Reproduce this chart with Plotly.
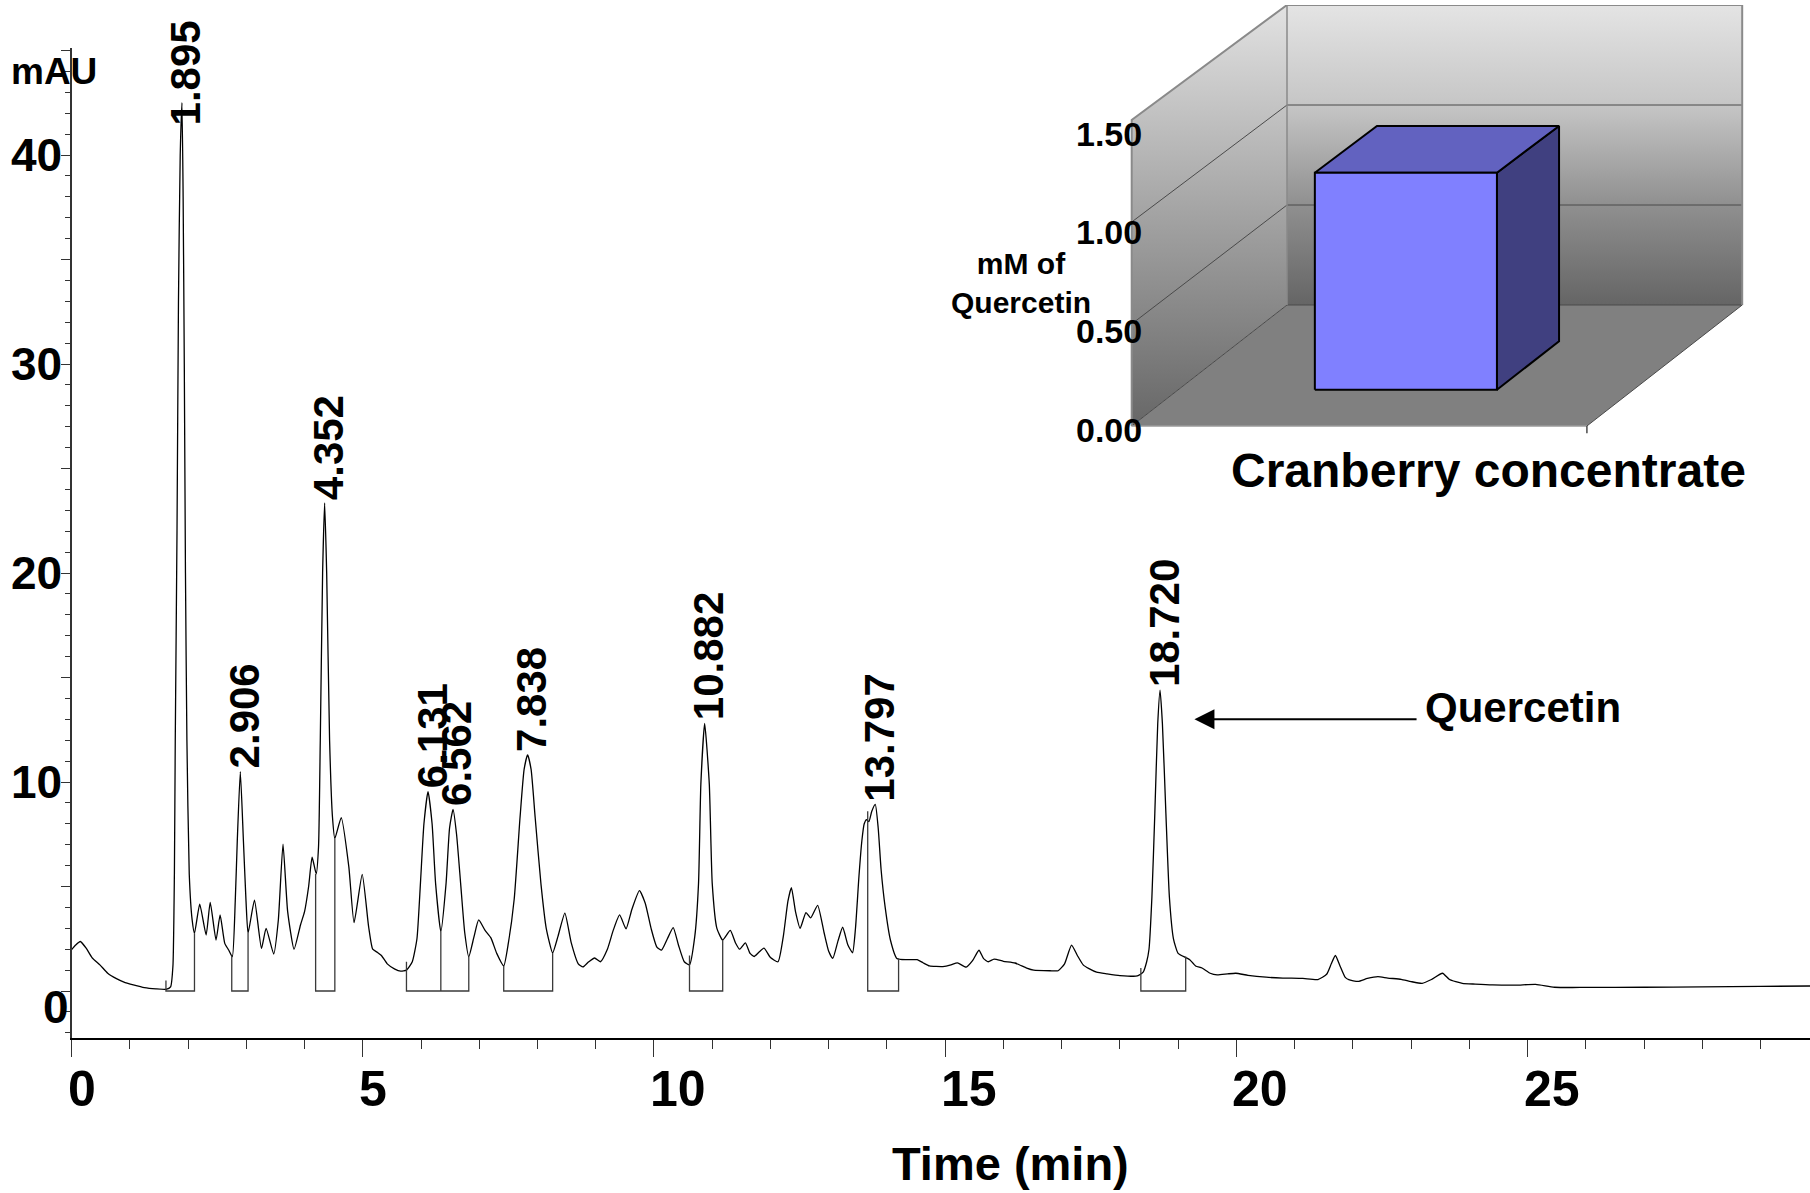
import plotly.graph_objects as go

# ---------------- data ----------------
time_min = [0.00, 0.07, 0.15, 0.25, 0.35, 0.49, 0.62, 0.77, 0.92, 1.06, 1.25, 1.45, 1.62, 1.70, 1.74,
            1.765, 1.78, 1.81, 1.835, 1.865, 1.895, 1.915, 1.935, 1.955, 1.98, 2.02, 2.07, 2.11, 2.20,
            2.31, 2.38, 2.48, 2.55, 2.63, 2.70, 2.76, 2.81, 2.845, 2.897, 2.95, 2.995, 3.03, 3.14, 3.26,
            3.34, 3.47, 3.55, 3.63, 3.71, 3.82, 3.93, 4.00, 4.07, 4.13, 4.20, 4.24, 4.27, 4.31, 4.345,
            4.38, 4.43, 4.48, 4.52, 4.63, 4.76, 4.85, 4.99, 5.10, 5.17, 5.25, 5.32, 5.42, 5.55, 5.65,
            5.75, 5.85, 5.93, 5.99, 6.05, 6.12, 6.19, 6.25, 6.34, 6.43, 6.49, 6.55, 6.61, 6.68, 6.75,
            6.82, 6.91, 6.99, 7.10, 7.20, 7.30, 7.42, 7.50, 7.60, 7.70, 7.77, 7.83, 7.89, 7.96, 8.06,
            8.15, 8.26, 8.35, 8.47, 8.58, 8.70, 8.78, 8.88, 8.98, 9.08, 9.20, 9.30, 9.41, 9.52, 9.62,
            9.75, 9.85, 9.95, 10.05, 10.13, 10.23, 10.33, 10.42, 10.52, 10.61, 10.70, 10.765, 10.805,
            10.87, 10.95, 11.00, 11.08, 11.18, 11.31, 11.40, 11.47, 11.57, 11.65, 11.72, 11.80, 11.89,
            12.00, 12.13, 12.22, 12.30, 12.36, 12.43, 12.51, 12.61, 12.69, 12.81, 12.92, 13.00, 13.07,
            13.16, 13.24, 13.33, 13.41, 13.46, 13.52, 13.57, 13.61, 13.65, 13.69, 13.74, 13.80, 13.85,
            13.90, 13.97, 14.06, 14.17, 14.34, 14.52, 14.62, 14.73, 14.96, 15.10, 15.21, 15.36, 15.47,
            15.58, 15.66, 15.74, 15.84, 16.00, 16.20, 16.40, 16.52, 16.80, 16.94, 17.05, 17.17, 17.27,
            17.37, 17.47, 17.60, 17.78, 18.00, 18.30, 18.40, 18.46, 18.50, 18.55, 18.60, 18.65, 18.69,
            18.73, 18.79, 18.85, 18.92, 19.00, 19.13, 19.20, 19.30, 19.41, 19.55, 19.67, 19.85, 19.99,
            20.20, 20.51, 20.80, 21.14, 21.40, 21.55, 21.63, 21.70, 21.78, 21.87, 21.93, 22.09, 22.25,
            22.43, 22.60, 22.83, 23.00, 23.19, 23.35, 23.54, 23.66, 23.88, 24.10, 24.40, 24.80, 25.14,
            25.46, 26.00, 27.00, 28.00, 29.00, 29.85]
signal_mau = [1.98, 2.2, 2.37, 2.05, 1.6, 1.24, 0.85, 0.59, 0.4, 0.29, 0.16, 0.1, 0.08, 0.2, 1.2,
              5.6, 12, 22, 33, 40, 42.5, 38, 30, 20, 12, 5.6, 3.4, 2.76, 4.16,
              2.68, 4.24, 2.44, 3.64, 2.28, 1.95, 1.64, 4.3, 7.2, 10.5, 7.2, 4.3, 2.76, 4.35, 2.04,
              3.0, 1.77, 3.4, 7.03, 3.8, 2.0, 3.16, 3.8, 5.0, 6.4, 5.6, 6.9, 12, 20, 23.35,
              20, 12, 8.3, 7.3, 8.3, 5.95, 3.27, 5.58, 3.08, 2.0, 1.85, 1.7, 1.3, 1.05, 0.95,
              1.0, 1.4, 2.5, 5.15, 8.0, 9.54, 8.0, 5.15, 2.84, 5.15, 7.8, 8.69, 7.5, 5.15, 2.8,
              1.64, 2.6, 3.4, 2.9, 2.54, 1.8, 1.2, 2.3, 4.4, 8.3, 10.6, 11.3, 10.6, 8.3, 5.1,
              3.0, 1.82, 2.6, 3.73, 2.3, 1.3, 1.15, 1.4, 1.58, 1.4, 2.0, 2.9, 3.64, 2.97, 3.9,
              4.8, 4.2, 3.0, 2.1, 1.96, 2.5, 3.03, 2.2, 1.4, 1.25, 2.6, 5.15, 9.9,
              12.8, 9.9, 5.15, 3.0, 2.44, 2.9, 2.3, 2.0, 2.3, 1.8, 1.65, 1.85, 2.05,
              1.6, 1.4, 2.6, 4.3, 4.95, 3.8, 3.0, 3.75, 3.5, 4.1, 2.8, 1.9, 1.56,
              2.4, 3.05, 2.2, 1.83, 3.0, 5.5, 7.2, 8.0, 8.2, 8.1, 8.6, 8.93, 7.8,
              5.8, 4.0, 2.44, 1.56, 1.5, 1.5, 1.35, 1.2, 1.17, 1.25, 1.35, 1.14, 1.45,
              1.95, 1.55, 1.4, 1.53, 1.42, 1.34, 1.1, 1.0, 0.97, 0.97, 1.3, 2.2, 1.7,
              1.25, 1.07, 0.9, 0.82, 0.74, 0.72, 0.9, 1.4, 2.0, 4.5, 8.5, 12.8, 14.4,
              12.8, 8.5, 4.5, 2.5, 1.8, 1.6, 1.5, 1.2, 1.1, 0.85, 0.77, 0.82, 0.85,
              0.75, 0.66, 0.62, 0.6, 0.55, 0.8, 1.3, 1.7, 1.2, 0.65, 0.54, 0.46, 0.6,
              0.69, 0.62, 0.56, 0.45, 0.37, 0.55, 0.85, 0.55, 0.37, 0.33, 0.29, 0.28, 0.32,
              0.18, 0.17, 0.18, 0.2, 0.22, 0.24]

peak_rt_labels = ["1.895", "2.906", "4.352", "6.131", "6.562", "7.838", "10.882", "13.797", "18.720"]
peak_apex_t = [1.895, 2.897, 4.345, 6.12, 6.55, 7.83, 10.87, 13.80, 18.69]
peak_apex_mau = [42.5, 10.5, 23.35, 9.54, 8.69, 11.3, 12.8, 8.93, 14.4]

# integration marks: start/end times and the heights where the drop lines meet the trace
int_start_t = [1.62, 2.75, 4.19, 5.75, 7.42, 10.61, 13.67, 18.36]
int_start_h = [0.5, 1.7, 5.6, 1.4, 1.2, 1.7, 8.6, 1.1]
int_end_t = [2.11, 3.03, 4.52, 6.82, 8.26, 11.18, 14.20, 19.13]
int_end_h = [2.76, 2.76, 7.3, 1.64, 1.82, 2.44, 1.56, 1.65]
int_split_t = [6.34]
int_split_h = [2.84]

x_tick_vals = [0, 5, 10, 15, 20, 25]
x_tick_text = ["0", "5", "10", "15", "20", "25"]
y_tick_vals = [0, 10, 20, 30, 40]
y_tick_text = ["0", "10", "20", "30", "40"]

inset_category = ["Cranberry concentrate"]
inset_quercetin_mM = [1.07]
inset_tick_vals = [0.0, 0.5, 1.0, 1.5]
inset_tick_text = ["0.00", "0.50", "1.00", "1.50"]

# ---------------- layout constants ----------------
W, H = 1810, 1193
FONT = "Liberation Sans, Arial, Helvetica, sans-serif"
X0_PX, YTOP_PX, YBOT_PX = 71.6, 48.0, 1037.7
X_RANGE = [0, 29.85]
Y_RANGE = [-2.234, 45.12]


def pxx(px):
    return px / W


def pxy(py):
    return 1 - py / H


fig = go.Figure()

# chromatogram
fig.add_trace(go.Scatter(x=time_min, y=signal_mau, mode="lines",
                         line=dict(color="black", width=1.3, shape="spline", smoothing=0.5),
                         hoverinfo="skip", showlegend=False))

# integration brackets
for s, hs, e, he in zip(int_start_t, int_start_h, int_end_t, int_end_h):
    fig.add_trace(go.Scatter(x=[s, s, e, e], y=[hs, 0, 0, he], mode="lines",
                             line=dict(color="#3a3a3a", width=1.3), hoverinfo="skip", showlegend=False))
for s, hs in zip(int_split_t, int_split_h):
    fig.add_trace(go.Scatter(x=[s, s], y=[0, hs], mode="lines",
                             line=dict(color="#3a3a3a", width=1.3), hoverinfo="skip", showlegend=False))

annotations = []

# peak retention-time labels
for lab, t, h in zip(peak_rt_labels, peak_apex_t, peak_apex_mau):
    if h > 40:  # tallest peak: label pinned near the top of the frame
        annotations.append(dict(x=t, y=pxy(18), xref="x", yref="paper", text=lab, showarrow=False,
                                textangle=-90, xanchor="center", yanchor="top", xshift=4,
                                font=dict(size=42, color="black", family=FONT, weight="bold")))
    else:
        annotations.append(dict(x=t, y=h, xref="x", yref="y", text=lab, showarrow=False,
                                textangle=-90, xanchor="center", yanchor="bottom", xshift=4, yshift=1,
                                font=dict(size=42, color="black", family=FONT, weight="bold")))

# axis tick labels
for v, txt in zip(x_tick_vals, x_tick_text):
    annotations.append(dict(x=v, y=pxy(1088.5), xref="x", yref="paper", text=txt, showarrow=False,
                            xanchor="left", yanchor="middle", xshift=-6,
                            font=dict(size=50, color="black", family=FONT, weight="bold")))
for v, txt in zip(y_tick_vals, y_tick_text):
    if v == 0:
        annotations.append(dict(x=pxx(X0_PX), y=v - 0.75, xref="paper", yref="y", text=txt,
                                showarrow=False, xanchor="right", yanchor="middle", xshift=-1,
                                font=dict(size=46, color="black", family=FONT, weight="bold")))
    else:
        annotations.append(dict(x=pxx(X0_PX), y=v, xref="paper", yref="y", text=txt,
                                showarrow=False, xanchor="right", yanchor="middle", xshift=-8,
                                font=dict(size=46, color="black", family=FONT, weight="bold")))

annotations.append(dict(x=pxx(54), y=pxy(71.5), xref="paper", yref="paper", text="mAU", showarrow=False,
                        xanchor="center", yanchor="middle",
                        font=dict(size=37, color="black", family=FONT, weight="bold")))
annotations.append(dict(x=pxx(1010.7), y=pxy(1163), xref="paper", yref="paper", text="Time (min)",
                        showarrow=False, xanchor="center", yanchor="middle",
                        font=dict(size=47, color="black", family=FONT, weight="bold")))

# Quercetin arrow + label
annotations.append(dict(x=19.28, y=13.0, ax=23.12, ay=13.0, xref="x", yref="y", axref="x", ayref="y",
                        text="", showarrow=True, arrowhead=2, arrowsize=2, arrowwidth=2,
                        arrowcolor="black"))
annotations.append(dict(x=23.2, y=13.55, xref="x", yref="y", text="Quercetin", showarrow=False,
                        xanchor="left", yanchor="middle",
                        font=dict(size=42, color="black", family=FONT, weight="bold")))

# ---------------- 3-D style inset bar chart ----------------
IN_OX, IN_OY = 1131.7, 426.0      # front-left-bottom corner (px)
IN_UPX, IN_VPX = 455.2, 204.0     # px per category unit / per mM (front plane)
DX, DY = 155.3 / IN_UPX, 121.0 / IN_VPX   # depth offset (axis units)
SB = 200.0 / 204.0                # slight perspective shrink at the back plane
IN_VMAX = 1.5
IN_XPX = [1120, 1750]
IN_YPX = [5, 440]


def proj(u, v, d):
    return u + d * DX, v * (1 - (1 - SB) * d) + d * DY


def poly(pts, close=True):
    xs, ys = zip(*[proj(*p) for p in pts])
    xs, ys = list(xs), list(ys)
    if close:
        xs.append(xs[0])
        ys.append(ys[0])
    return xs, ys


def inset_fill(pts, color=None, gradient=None, line_color=None, line_width=0):
    xs, ys = poly(pts)
    kw = dict(x=xs, y=ys, mode="lines", fill="toself", xaxis="x2", yaxis="y2",
              hoverinfo="skip", showlegend=False,
              line=dict(color=line_color or "rgba(0,0,0,0)", width=line_width))
    if gradient is not None:
        kw["fillgradient"] = dict(type="vertical", colorscale=gradient,
                                  start=min(ys), stop=max(ys))
    else:
        kw["fillcolor"] = color
    fig.add_trace(go.Scatter(**kw))


def inset_line(pts, color, width):
    xs, ys = poly(pts, close=False)
    fig.add_trace(go.Scatter(x=xs, y=ys, mode="lines", xaxis="x2", yaxis="y2", hoverinfo="skip",
                             showlegend=False, line=dict(color=color, width=width)))


wall_grad = [[0, "#656565"], [0.33, "#8f8f8f"], [0.67, "#c6c6c6"], [1, "#e4e4e4"]]
# back wall, side wall, floor
inset_fill([(0, 0, 1), (1, 0, 1), (1, IN_VMAX, 1), (0, IN_VMAX, 1)], gradient=wall_grad)
inset_fill([(0, 0, 0), (0, 0, 1), (0, IN_VMAX, 1), (0, IN_VMAX, 0)],
           gradient=[[0, "#676767"], [0.5, "#a3a3a3"], [1, "#e2e2e2"]])
inset_fill([(0, 0, 0), (1, 0, 0), (1, 0, 1), (0, 0, 1)], color="#808080")

# gridlines
for v in inset_tick_vals[:-1]:
    inset_line([(0, v, 0), (0, v, 1), (1, v, 1)], "#4a4a4a", 1)
# frame edges
inset_line([(0, 0, 0), (0, IN_VMAX, 0), (0, IN_VMAX, 1), (1, IN_VMAX, 1), (1, 0, 1)], "#8a8a8a", 2)
inset_line([(0, 0, 1), (0, IN_VMAX, 1)], "#8a8a8a", 1.5)
inset_line([(0, 0, 0), (1, 0, 0)], "#9a9a9a", 1.5)
inset_line([(1, 0, 0), (1, 0, 1)], "#4a4a4a", 1)
inset_line([(1, 0, 0), (1, -0.035, 0)], "#4a4a4a", 1.5)

# the bar (category centred at u = 0.5)
BAR_HALF, D0, D1 = 0.2, 0.3, 0.7
for i, val in enumerate(inset_quercetin_mM):
    uc = (i + 0.5) / len(inset_quercetin_mM)
    u0, u1 = uc - BAR_HALF, uc + BAR_HALF
    inset_fill([(u1, 0, D0), (u1, 0, D1), (u1, val, D1), (u1, val, D0)], color="#404080",
               line_color="black", line_width=2)
    inset_fill([(u0, val, D0), (u1, val, D0), (u1, val, D1), (u0, val, D1)], color="#6262c0",
               line_color="black", line_width=2)
    inset_fill([(u0, 0, D0), (u1, 0, D0), (u1, val, D0), (u0, val, D0)], color="#8080ff",
               line_color="black", line_width=2)
    annotations.append(dict(x=pxx(1488), y=pxy(470), xref="paper", yref="paper",
                            text=inset_category[i], showarrow=False, xanchor="center",
                            yanchor="middle",
                            font=dict(size=48, color="black", family=FONT, weight="bold")))

# inset value-axis labels (Excel draws them slightly below the grid points)
LBL_SCALE = 197.6 / 204.0
for v, txt in zip(inset_tick_vals, inset_tick_text):
    lx, ly = proj(0, v * LBL_SCALE, 0)
    annotations.append(dict(x=lx, y=ly, xref="x2", yref="y2", text=txt, showarrow=False,
                            xanchor="right", yanchor="middle", xshift=12, yshift=-4,
                            font=dict(size=34, color="black", family=FONT, weight="bold")))
annotations.append(dict(x=pxx(1021), y=pxy(282.5), xref="paper", yref="paper",
                        text="mM of<br>Quercetin",
                        showarrow=False, xanchor="center", yanchor="middle", align="center",
                        font=dict(size=30, color="black", family=FONT, weight="bold")))

fig.update_layout(
    width=W, height=H, margin=dict(l=0, r=0, t=0, b=0),
    paper_bgcolor="white", plot_bgcolor="rgba(0,0,0,0)",
    font=dict(family=FONT, color="black"),
    showlegend=False,
    annotations=annotations,
    xaxis=dict(domain=[pxx(X0_PX), 1.0], range=X_RANGE, anchor="y",
               showline=True, linecolor="black", linewidth=2, mirror=False,
               showgrid=False, zeroline=False, showticklabels=False,
               ticks="outside", tickmode="linear", tick0=0, dtick=5, ticklen=17, tickwidth=1.2,
               tickcolor="#333333",
               minor=dict(ticks="outside", tickmode="linear", tick0=0, dtick=1, ticklen=9,
                          tickwidth=1.2, tickcolor="#333333", showgrid=False)),
    yaxis=dict(domain=[pxy(YBOT_PX), pxy(YTOP_PX)], range=Y_RANGE, anchor="x",
               showline=True, linecolor="#333333", linewidth=1.5,
               showgrid=False, zeroline=False, showticklabels=False,
               ticks="outside", tickmode="linear", tick0=0, dtick=5, ticklen=9, tickwidth=1.2,
               tickcolor="#333333",
               minor=dict(ticks="outside", tickmode="linear", tick0=0, dtick=1, ticklen=5,
                          tickwidth=1.2, tickcolor="#333333", showgrid=False)),
    xaxis2=dict(domain=[pxx(IN_XPX[0]), pxx(IN_XPX[1])],
                range=[(IN_XPX[0] - IN_OX) / IN_UPX, (IN_XPX[1] - IN_OX) / IN_UPX],
                anchor="y2", visible=False, fixedrange=True),
    yaxis2=dict(domain=[pxy(IN_YPX[1]), pxy(IN_YPX[0])],
                range=[(IN_OY - IN_YPX[1]) / IN_VPX, (IN_OY - IN_YPX[0]) / IN_VPX],
                anchor="x2", visible=False, fixedrange=True),
)

fig.write_html("out.html", config={"displayModeBar": False},
               post_script="document.body.style.margin='0';document.body.style.overflow='hidden';")
